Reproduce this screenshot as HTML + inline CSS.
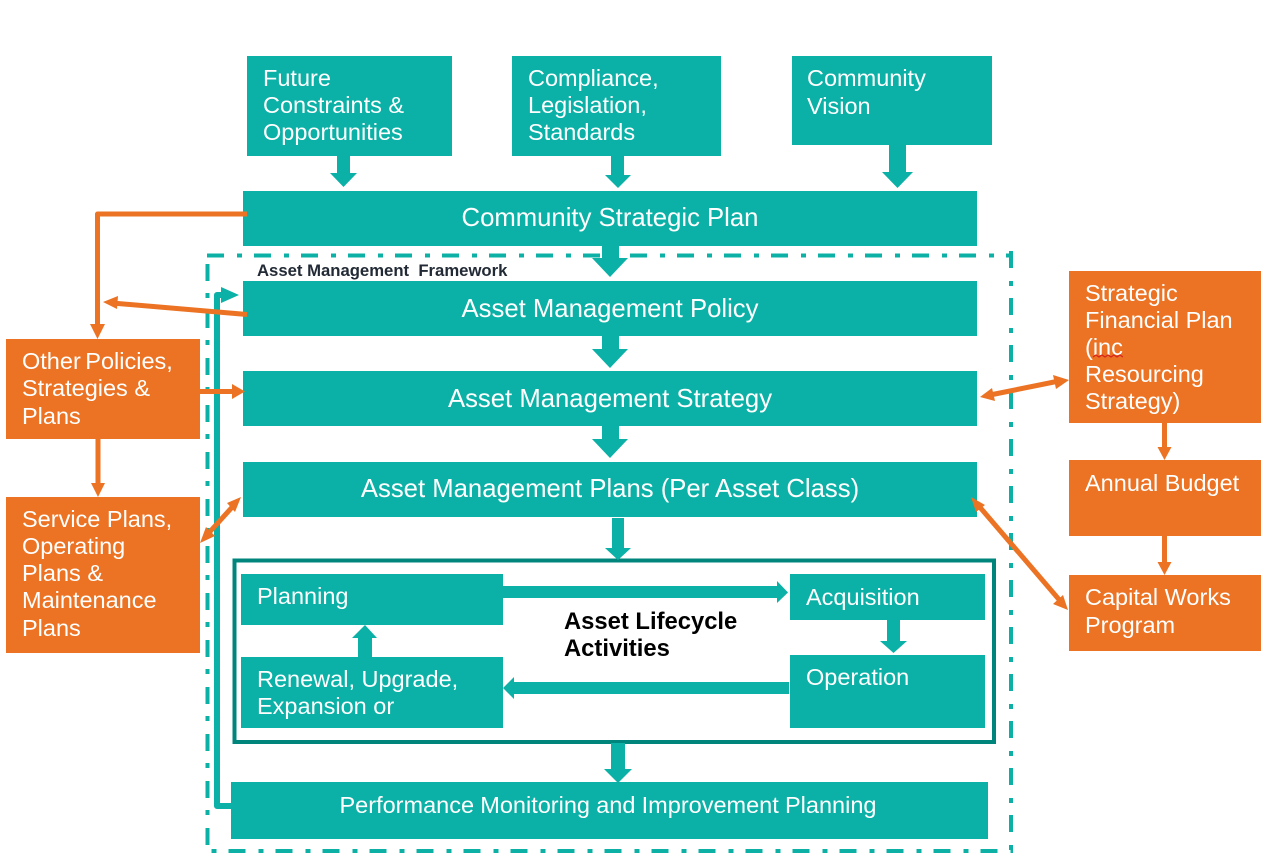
<!DOCTYPE html>
<html>
<head>
<meta charset="utf-8">
<style>
html,body{margin:0;padding:0;background:#fff;width:1261px;height:862px;overflow:hidden}
svg{display:block}
text{font-family:"Liberation Sans",Arial,sans-serif;font-size:23.500px;fill:#fff}
.m{text-anchor:middle}
.b{font-size:25.700px}
</style>
</head>
<body>
<svg width="1261" height="862" viewBox="0 0 1261 862" xmlns="http://www.w3.org/2000/svg">
<rect width="1261" height="862" fill="#fff"/>

<!-- dash-dot frame -->
<g fill="none" stroke="#0DB0A5" stroke-width="4" stroke-dasharray="17 13 5 12">
<line x1="207" y1="255.500" x2="1013" y2="255.500"/>
<line x1="1011" y1="251" x2="1011" y2="851"/>
<line x1="211.500" y1="851" x2="1013" y2="851" stroke-dashoffset="30"/>
<line x1="207.500" y1="845" x2="207.500" y2="256"/>
</g>

<!-- teal boxes -->
<g fill="#0BB1A6">
<rect x="247" y="56" width="205" height="100"/>
<rect x="512" y="56" width="209" height="100"/>
<rect x="792" y="56" width="200" height="89"/>
<rect x="243" y="191" width="734" height="55"/>
<rect x="243" y="281" width="734" height="55"/>
<rect x="243" y="371" width="734" height="55"/>
<rect x="243" y="462" width="734" height="55"/>
<rect x="241" y="574" width="262" height="51"/>
<rect x="790" y="574" width="195" height="46"/>
<rect x="241" y="657" width="262" height="71"/>
<rect x="790" y="655" width="195" height="73"/>
<rect x="231" y="782" width="757" height="57"/>
</g>

<!-- lifecycle border -->
<rect x="234.500" y="560.500" width="759.500" height="181.500" fill="none" stroke="#00857C" stroke-width="4"/>

<!-- teal block arrows -->
<g fill="#0BB1A6">
<polygon points="337,156 350,156 350,173 357,173 343.500,187 330,173 337,173"/>
<polygon points="611,156 624,156 624,175 631,175 618,188 605,175 611,175"/>
<polygon points="889,145 906,145 906,172 913,172 897.500,188 882,172 889,172"/>
<polygon points="602,246 619,246 619,258 628,258 610,277 592,258 602,258"/>
<polygon points="602,336 619,336 619,349 628,349 610,368 592,349 602,349"/>
<polygon points="602,426 619,426 619,439 628,439 610,458 592,439 602,439"/>
<polygon points="612,518 624,518 624,548 631,548 618,560 605,548 612,548"/>
<polygon points="611,743 625,743 625,769 632,769 618,783 604,769 611,769"/>
<polygon points="503,586 777,586 777,581 788,592.500 777,603 777,598 503,598"/>
<polygon points="887,620 900,620 900,641 907,641 893.500,653 880,641 887,641"/>
<polygon points="789,682 514,682 514,677 503,688 514,699 514,694 789,694"/>
<polygon points="358,657 372,657 372,638 377,638 365,625 352,638 358,638"/>
</g>

<!-- feedback line -->
<polyline points="231,806 217,806 217,295 224,295" fill="none" stroke="#0BB1A6" stroke-width="6" stroke-linejoin="round"/>
<polygon points="221,287 239,295 221,303" fill="#0BB1A6"/>

<!-- orange connectors -->
<g fill="none" stroke="#EB7323" stroke-width="5">
<polyline points="247,214 97.500,214 97.500,326" stroke-linejoin="round"/>
<line x1="247" y1="314.500" x2="112" y2="303"/>
<line x1="200" y1="391.500" x2="233" y2="391.500"/>
<line x1="98" y1="439" x2="98" y2="484"/>
<line x1="206" y1="536" x2="235" y2="504"/>
<line x1="990" y1="395" x2="1059" y2="381"/>
<line x1="1164.500" y1="423" x2="1164.500" y2="449"/>
<line x1="1164.500" y1="536" x2="1164.500" y2="563"/>
<line x1="978" y1="505" x2="1062" y2="603"/>
</g>
<g fill="#EB7323">
<polygon points="90,324 105,324 97.500,339"/>
<polygon points="103,302 118,296 117,309"/>
<polygon points="232,384 245,391.500 232,399"/>
<polygon points="91,483 105,483 98,497"/>
<polygon points="200,543 206,527 215,536"/>
<polygon points="241,497 227,503 235,512"/>
<polygon points="980,397 992,388 995,401"/>
<polygon points="1069,380 1053,375 1056,389"/>
<polygon points="1157.500,447 1171.500,447 1164.500,460"/>
<polygon points="1157.500,562 1171.500,562 1164.500,575"/>
<polygon points="971,497 985,505 976,512"/>
<polygon points="1068,610 1053,604 1063,595"/>
</g>

<!-- orange boxes -->
<g fill="#EB7323">
<rect x="6" y="339" width="194" height="100"/>
<rect x="6" y="497" width="194" height="156"/>
<rect x="1069" y="271" width="192" height="152"/>
<rect x="1069" y="460" width="192" height="76"/>
<rect x="1069" y="575" width="192" height="76"/>
</g>

<!-- text -->
<text x="263" y="86">Future</text>
<text x="263" y="113">Constraints &amp;</text>
<text x="263" y="140">Opportunities</text>
<text x="528" y="86">Compliance,</text>
<text x="528" y="113">Legislation,</text>
<text x="528" y="140">Standards</text>
<text x="807" y="86">Community</text>
<text x="807" y="114">Vision</text>

<text class="m b" x="610" y="226">Community Strategic Plan</text>
<text class="m b" x="610" y="317">Asset Management Policy</text>
<text class="m b" x="610" y="407">Asset Management Strategy</text>
<text class="m b" x="610" y="497">Asset Management Plans (Per Asset Class)</text>
<text class="m" x="608" y="813" style="word-spacing:-0.300px">Performance Monitoring and Improvement Planning</text>

<text x="257" y="276" style="font-size:16.700px;font-weight:bold;fill:#222a35" xml:space="preserve">Asset Management  Framework</text>

<text x="257" y="604">Planning</text>
<text x="806" y="605">Acquisition</text>
<text x="806" y="685">Operation</text>
<text x="257" y="687">Renewal, Upgrade,</text>
<text x="257" y="714">Expansion or</text>
<text x="564" y="629" style="font-size:23.800px;font-weight:bold;fill:#000">Asset Lifecycle</text>
<text x="564" y="656" style="font-size:23.800px;font-weight:bold;fill:#000">Activities</text>

<text x="22" y="369" style="word-spacing:-2px">Other Policies,</text>
<text x="22" y="396">Strategies &amp;</text>
<text x="22" y="424">Plans</text>
<text x="22" y="527">Service Plans,</text>
<text x="22" y="554">Operating</text>
<text x="22" y="581">Plans &amp;</text>
<text x="22" y="608">Maintenance</text>
<text x="22" y="636">Plans</text>

<text x="1085" y="301">Strategic</text>
<text x="1085" y="328">Financial Plan</text>
<text x="1085" y="355">(inc</text>
<text x="1085" y="382">Resourcing</text>
<text x="1085" y="409">Strategy)</text>
<path d="M1093 357l3 -2 3 2 3 -2 3 2 3 -2 3 2 3 -2 3 2 3 -2 3 2" fill="none" stroke="#D8261C" stroke-width="1.300"/>
<text x="1085" y="491">Annual Budget</text>
<text x="1085" y="605">Capital Works</text>
<text x="1085" y="633">Program</text>
</svg>
</body>
</html>
